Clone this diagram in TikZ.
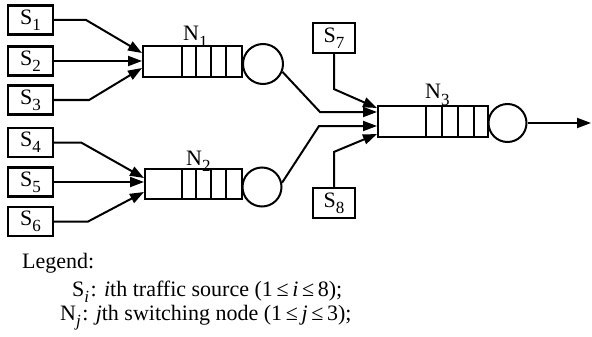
\documentclass[tikz,border=0pt]{standalone}
\usepackage{fontspec}
\setmainfont{Liberation Serif}
\usetikzlibrary{arrows.meta,calc}
\newcommand{\lsub}[1]{\raisebox{-0.28em}{\fontsize{17}{17}\selectfont #1}}
\tikzset{
  txt/.style={font=\fontsize{22}{26}\selectfont, inner sep=0pt},
  srcbox/.style={draw, line width=2.2pt, minimum width=45pt, minimum height=29pt, inner sep=0pt, font=\fontsize{22}{26}\selectfont},
  queuebox/.style={draw, line width=2pt, minimum height=31pt, inner sep=0pt},
  server/.style={draw, circle, line width=2pt, inner sep=0pt},
  flow/.style={line width=2pt, -{Triangle[length=14pt,width=10pt]}},
  cell/.style={line width=1.8pt}
}
\begin{document}
\begin{tikzpicture}[x=1pt,y=-1pt]
\useasboundingbox (0,0) rectangle (592,337);

% traffic sources
\node[srcbox] (s1) at (30.5,20)    {S\lsub{1}};
\node[srcbox] (s2) at (30.5,61)    {S\lsub{2}};
\node[srcbox] (s3) at (30.5,100)   {S\lsub{3}};
\node[srcbox] (s4) at (30.5,142.5) {S\lsub{4}};
\node[srcbox] (s5) at (30.5,182)   {S\lsub{5}};
\node[srcbox] (s6) at (30.5,221.5) {S\lsub{6}};
\node[srcbox, minimum width=42pt, minimum height=30pt] (s7) at (334,38)  {S\lsub{7}};
\node[srcbox, minimum width=42pt, minimum height=30pt] (s8) at (334,203) {S\lsub{8}};

% switching nodes: queue + server
\node[queuebox, minimum width=99pt] (q1) at (192.5,62) {};
\node[server, minimum size=40pt] (c1) at (263,64) {};
\node[queuebox, minimum width=97pt, minimum height=30pt] (q2) at (193.5,184) {};
\node[server, minimum size=39pt] (c2) at (262,187) {};
\node[queuebox, minimum width=110pt] (q3) at (433,121.5) {};
\node[server, minimum size=38pt] (c3) at (507.5,123) {};

% queue cells
\foreach \d in {40,54,69,84}
  \draw[cell] ($(q1.north west)+(\d,0)$) -- ($(q1.south west)+(\d,0)$);
\foreach \d in {38,52,67,82}
  \draw[cell] ($(q2.north west)+(\d,0)$) -- ($(q2.south west)+(\d,0)$);
\foreach \d in {49,65,81,97}
  \draw[cell] ($(q3.north west)+(\d,0)$) -- ($(q3.south west)+(\d,0)$);

% node labels
\node[txt, anchor=base west] (n1) at (183,41)  {N\lsub{1}};
\node[txt, anchor=base west] (n2) at (186,165) {N\lsub{2}};
\node[txt, anchor=base west] (n3) at (425,99)  {N\lsub{3}};

% sources into N1
\draw[flow] (s1.east) -- ++(32,0) -- ($(q1.west)+(0,-9)$);
\draw[flow] (s2.east) -- (s2.east -| q1.west);
\draw[flow] (s3.east) -- ++(35,0) -- ($(q1.west)+(0,6)$);

% sources into N2
\draw[flow] (s4.east) -- ++(27,0) -- ($(q2.west)+(0,-6)$);
\draw[flow] (s5.east) -- (s5.east -| q2.west);
\draw[flow] (s6.east) -- ++(34,0) -- ($(q2.west)+(0,8)$);

% into N3
\coordinate (m1) at (320,112);
\coordinate (m2) at (319,126);
\draw[flow] (c1.-22) -- (m1) -- (m1 -| q3.west);
\draw[flow] (c2.12) -- (m2) -- (m2 -| q3.west);
\draw[flow] (s7.south) -- ++(0,35) -- ($(q3.west)+(0,-13.5)$);
\draw[flow] (s8.north) -- ++(0,-35) -- ($(q3.west)+(0,12.5)$);

% output
\coordinate (out) at (591,123);
\draw[flow] (c3.east) -- (out);

% legend
\node[txt, anchor=base west] (lg) at (22,268) {Legend:};
\node[txt, anchor=base west] (ls) at (72,296) {S\lsub{\itshape i}\kern1.5pt: \textit{i}th traffic source (1\,≤\,\textit{i}\,≤\,8);};
\node[txt, anchor=base west] (ln) at (60,320) {N\lsub{\itshape j}\kern1.5pt: \textit{j}th switching node (1\,≤\,\textit{j}\,≤\,3);};
\end{tikzpicture}
\end{document}
